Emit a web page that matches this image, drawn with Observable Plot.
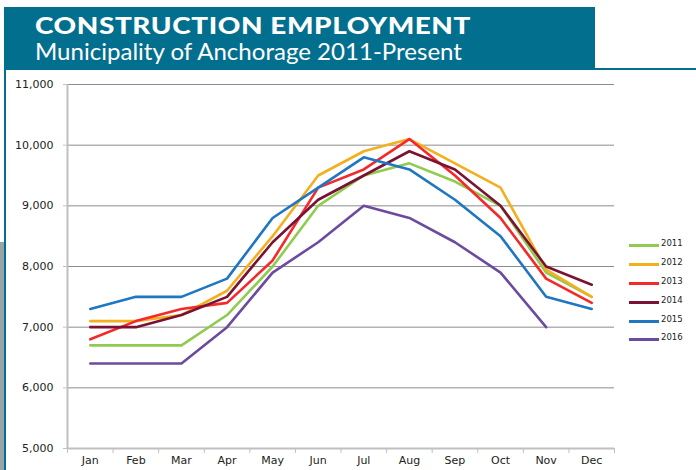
<!DOCTYPE html>
<html>
<head>
<meta charset="utf-8">
<script src="https://cdn.jsdelivr.net/npm/d3@7"></script>
<script src="https://cdn.jsdelivr.net/npm/@observablehq/plot@0.6"></script>
<style>
  html, body { margin: 0; padding: 0; background: #fff; }
  #page { position: relative; width: 696px; height: 470px; overflow: hidden; background: #fff; }
  #banner { position: absolute; left: 4px; top: 7px; width: 591px; height: 63px; background: #036f8e; }
  #topline { position: absolute; left: 595px; top: 68px; width: 101px; height: 2px; background: #036f8e; }
  #leftline { position: absolute; left: 4px; top: 70px; width: 2px; height: 400px; background: #036f8e; }
  #graybox { position: absolute; left: 0px; top: 242px; width: 4px; height: 228px; background: #97a3a7; }
  #title { position: absolute; left: 35px; top: 14px; color: #fff; font-family: Lato, "Open Sans", sans-serif; font-weight: 900; font-size: 23px; letter-spacing: 0.5px; white-space: nowrap; line-height: 1; transform-origin: 0 0; }
  #subtitle { position: absolute; left: 35px; top: 40px; color: #fff; font-family: Lato, "Open Sans", sans-serif; font-weight: 400; font-size: 23px; white-space: nowrap; line-height: 1; transform-origin: 0 0; }
  #chart { position: absolute; left: 0; top: 72px; }
  #legend { position: absolute; left: 629px; top: 0; font-family: "DejaVu Sans", sans-serif; font-size: 8.5px; color: #222; }
  .li { position: absolute; left: 0; white-space: nowrap; }
  .sw { position: absolute; left: 0; width: 30px; height: 3px; }
  .lt { position: absolute; left: 32px; top: -6px; }
</style>
</head>
<body>
<div id="page">
  <div id="banner"></div>
  <div id="topline"></div>
  <div id="leftline"></div>
  <div id="graybox"></div>
  <div id="title">CONSTRUCTION EMPLOYMENT</div>
  <div id="subtitle">Municipality of Anchorage 2011-Present</div>
  <div id="chart"></div>
  <div id="legend"></div>
</div>
<script>
const months = ["Jan","Feb","Mar","Apr","May","Jun","Jul","Aug","Sep","Oct","Nov","Dec"];
const years = ["2011","2012","2013","2014","2015","2016"];
const colors = ["#8fcb4f","#f2b01e","#f5282a","#7a1333","#1f77c2","#6c4b9f"];
const yTicks = [5000, 6000, 7000, 8000, 9000, 10000, 11000];

const v2011 = [6700, 6700, 6700, 7200, 8000, 9000, 9500, 9700, 9400, 9000, 7900, 7500];
const v2012 = [7100, 7100, 7200, 7600, 8500, 9500, 9900, 10100, 9700, 9300, 7950, 7500];
const v2013 = [6800, 7100, 7300, 7400, 8100, 9300, 9600, 10100, 9500, 8800, 7800, 7400];
const v2014 = [7000, 7000, 7200, 7500, 8400, 9100, 9500, 9900, 9600, 9000, 8000, 7700];
const v2015 = [7300, 7500, 7500, 7800, 8800, 9300, 9800, 9600, 9100, 8500, 7500, 7300];
const v2016 = [6400, 6400, 6400, 7000, 7900, 8400, 9000, 8800, 8400, 7900, 7000];

const series = [v2011, v2012, v2013, v2014, v2015, v2016];
const rows = [];
series.forEach((vals, s) => vals.forEach((v, i) => rows.push({year: years[s], xi: i + 0.5, month: months[i], value: v})));

const chart = Plot.plot({
  width: 696,
  height: 398,
  marginLeft: 67,
  marginRight: 82,
  marginTop: 12,
  marginBottom: 22,
  style: {fontFamily: "'DejaVu Sans', sans-serif", fontSize: "11px", color: "#222", background: "transparent"},
  x: {type: "linear", domain: [0, 12]},
  y: {domain: [5000, 11000]},
  color: {domain: years, range: colors},
  marks: [
    Plot.gridY(yTicks.slice(1), {stroke: "#8c8c8c", strokeOpacity: 1, strokeWidth: 1}),
    Plot.ruleX([0], {stroke: "#c0c0c0", strokeWidth: 2}),
    Plot.ruleY([5000], {stroke: "#c0c0c0", strokeWidth: 2}),
    Plot.axisY({ticks: yTicks, tickFormat: d3.format(","), tickSize: 4, tickPadding: 10, stroke: "#c0c0c0", label: null}),
    Plot.axisX({ticks: d3.range(0, 13), tickSize: 5, tickFormat: () => "", stroke: "#c0c0c0", label: null}),
    Plot.axisX({ticks: months.map((m, i) => i + 0.5), tickSize: 0, tickPadding: 8, tickFormat: d => months[Math.floor(d)], label: null}),
    Plot.line(rows, {x: "xi", y: "value", z: "year", stroke: "year", strokeWidth: 2.6})
  ]
});
document.getElementById("chart").appendChild(chart);

const legendYs = [245.5, 264.5, 283.5, 302, 321, 339.5];
const legend = document.getElementById("legend");
years.forEach((y, i) => {
  const li = document.createElement("div");
  li.className = "li";
  li.style.top = (legendYs[i] - 1.5) + "px";
  li.innerHTML = `<div class="sw" style="background:${colors[i]}"></div><div class="lt">${y}</div>`;
  legend.appendChild(li);
});

// stretch title text horizontally to the reference widths
function fit(id, target) {
  const el = document.getElementById(id);
  const w = el.getBoundingClientRect().width;
  el.style.transform = `scaleX(${target / w})`;
}
fit("title", 436);
fit("subtitle", 427);
</script>
</body>
</html>
